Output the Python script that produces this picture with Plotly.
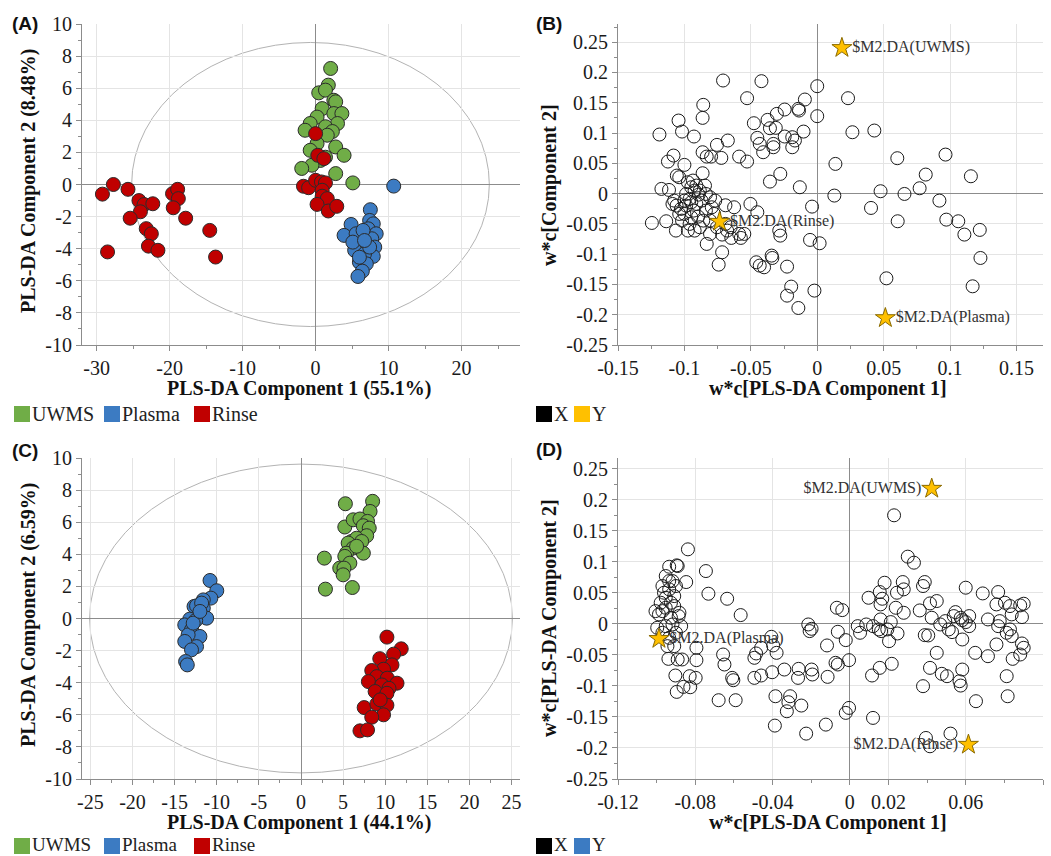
import plotly.graph_objects as go

W, H = 1051, 856

# ---------------- Panel A: PLS-DA scores ----------------
A_UWMS_X = [2.06, 0.43, 1.74, 1.35, 2.5, 2.75, 0.9, 2.5, 3.6, 0.2, 3.0, -0.74, -1.44, 1.35, 2.3, 1.6,
            0.2, 2.75, 3.9, -0.74, 0.66, -0.5, -1.9, 2.75, 5.1, 1.35]
A_UWMS_Y = [7.23, 5.71, 6.19, 5.88, 5.25, 5.15, 4.73, 4.42, 4.42, 4.2, 3.8, 3.8, 3.38, 3.6, 3.3, 3.07,
            2.55, 2.34, 1.82, 2.13, 1.5, 1.2, 1.0, 0.68, 0.1, 1.7]
A_PLASMA_X = [10.7, 7.5, 4.86, 3.9, 7.4, 7.9, 7.2, 8.3, 6.0, 7.7, 6.5, 5.35, 8.1, 7.9, 6.7, 6.0, 6.95,
              6.4, 5.8, 5.55, 6.5, 5.1, 7.4, 6.7, 6.0]
A_PLASMA_Y = [-0.1, -1.57, -2.49, -3.17, -2.24, -2.45, -2.76, -3.07, -3.28, -3.38, -3.8, -4.1, -3.9,
              -4.48, -4.32, -4.84, -4.94, -5.4, -5.73, -3.07, -2.86, -3.59, -3.9, -3.49, -4.53]
A_RINSE_X = [-29.2, -27.7, -25.7, -24.2, -23.5, -22.3, -24.0, -25.4, -23.2, -22.5, -22.9, -21.6, -28.5,
             -19.6, -18.9, -18.8, -19.5, -17.8, -14.5, -13.7,
             0.0, 0.3, 1.13, -1.66, -0.96, 0.0, 0.8, 1.35, 0.9, 0.9, 1.6, 0.2, 1.74, 2.9]
A_RINSE_Y = [-0.6, 0.0, -0.3, -1.0, -1.25, -1.2, -1.7, -2.1, -2.75, -3.07, -3.84, -4.1, -4.2,
             -0.57, -0.3, -0.88, -1.45, -2.1, -2.86, -4.52,
             3.17, 1.82, 1.61, -0.11, -0.2, 0.26, 0.16, 0.1, -0.36, -0.73, -0.88, -1.24, -1.65, -1.36]

# ---------------- Panel C: PLS-DA scores ----------------
C_UWMS_X = [5.27, 8.5, 8.2, 5.2, 6.2, 7.0, 7.9, 7.4, 8.1, 7.8, 6.0, 6.6, 7.2, 5.6, 6.2, 7.4, 5.4, 5.2,
            2.77, 5.8, 4.6, 5.1, 5.0, 2.9, 6.1, 6.6]
C_UWMS_Y = [7.15, 7.3, 6.67, 5.7, 6.15, 6.2, 6.05, 5.78, 5.63, 5.16, 4.8, 5.0, 4.8, 4.7, 4.39, 4.07,
            4.07, 3.87, 3.76, 3.45, 3.14, 3.14, 2.72, 1.83, 1.93, 4.5]
C_PLASMA_X = [-10.8, -10.0, -10.7, -11.6, -12.7, -12.4, -11.6, -11.8, -11.2, -13.2, -12.5, -13.8, -13.0,
              -12.0, -13.4, -12.4, -13.8, -13.0, -13.7, -13.5, -12.8, -12.0]
C_PLASMA_Y = [2.37, 1.73, 1.27, 1.16, 0.75, 0.79, 0.64, 0.96, 0.02, -0.04, -0.12, -0.4, -0.7, -1.12,
              -1.02, -1.75, -1.43, -1.95, -2.68, -2.89, -0.29, 0.44]
C_RINSE_X = [10.2, 11.9, 11.0, 9.35, 10.8, 9.8, 8.4, 9.0, 10.25, 8.0, 11.4, 9.6, 10.45, 8.8, 10.2, 7.5,
             9.0, 10.2, 9.8, 8.4, 7.0, 7.9, 9.4]
C_RINSE_Y = [-1.16, -1.89, -2.22, -2.5, -2.89, -3.16, -3.24, -3.62, -3.72, -3.93, -4.03, -4.14, -4.35,
             -4.55, -4.66, -5.55, -5.32, -5.4, -6.0, -6.15, -7.0, -6.94, -5.07]

# Hotelling T2 ellipses: (centre x, radius x, radius y)
ELLIPSE_A = (-0.7, 24.5, 8.85)
ELLIPSE_C = (0.0, 25.1, 9.62)

# ---------------- Panel B: loadings w*c ----------------
B_X_LOADINGS = [
    (-0.0709, 0.1867), (-0.042, 0.1856), (0.0, 0.1773), (-0.0528, 0.1575), (-0.0858, 0.1465),
    (-0.0093, 0.1553), (0.0232, 0.1575), (-0.0863, 0.125), (-0.1044, 0.1206), (0.0, 0.1278),
    (-0.0245, 0.1388), (-0.0142, 0.1399), (-0.0137, 0.1371), (-0.0304, 0.1316), (-0.0477, 0.1162),
    (-0.0374, 0.1217), (-0.0356, 0.1079), (-0.0312, 0.1085), (-0.0103, 0.1024), (0.0265, 0.1013),
    (0.043, 0.1041), (-0.1018, 0.1024), (-0.1188, 0.0975), (-0.0928, 0.0942), (-0.0451, 0.092),
    (-0.0433, 0.082), (-0.0673, 0.0876), (-0.0755, 0.0804), (-0.0245, 0.0942), (-0.0188, 0.0931),
    (-0.0168, 0.0876), (-0.0188, 0.0765), (-0.033, 0.082), (-0.033, 0.0765), (-0.0407, 0.0683),
    (-0.0863, 0.0683), (-0.0832, 0.0611), (-0.0799, 0.0611), (-0.0722, 0.0589), (-0.0588, 0.0611),
    (-0.0528, 0.0529), (-0.1082, 0.0628), (-0.1124, 0.0529), (-0.1, 0.0474), (-0.0863, 0.0336),
    (-0.1057, 0.0297), (-0.0278, 0.0325), (-0.0356, 0.0198), (0.0137, 0.049), (-0.0131, 0.0105),
    (0.0129, -0.0033), (-0.0039, -0.0215), (0.0603, 0.0584), (0.0966, 0.0644), (0.1157, 0.0286),
    (0.0817, 0.0314), (0.0771, 0.0088), (0.0657, -0.0006), (0.0477, 0.0039), (0.0405, -0.0237),
    (0.092, -0.0116), (0.0606, -0.0457), (0.0972, -0.043), (0.1062, -0.0457), (0.1108, -0.0677),
    (0.1224, -0.06), (0.1229, -0.1063), (0.0521, -0.1399), (0.117, -0.1531), (-0.0054, -0.0765),
    (0.0018, -0.082), (-0.0286, -0.0611), (-0.0278, -0.0694), (-0.0343, -0.1024), (-0.0338, -0.1063),
    (-0.0459, -0.1134), (-0.0433, -0.1189), (-0.04, -0.1217), (-0.0227, -0.1206), (-0.0196, -0.1536),
    (-0.0227, -0.1685), (-0.0021, -0.1602), (-0.0142, -0.1889), (-0.0503, -0.0171), (-0.0451, -0.0308),
    (-0.0742, -0.1173), (-0.0716, -0.0969), (-0.0832, -0.0831), (-0.0691, -0.0193), (-0.0626, -0.0226),
    (-0.0588, -0.0666), (-0.0647, -0.0732), (-0.0678, -0.0611), (-0.1245, -0.0485), (-0.1137, -0.0457),
    (-0.1173, 0.0077), (-0.1116, 0.006),
    (-0.1077, -0.0116), (-0.1059, -0.0198), (-0.1039, -0.0336), (-0.1018, -0.0446), (-0.0987, -0.0006),
    (-0.0961, -0.0088), (-0.0948, 0.0105), (-0.0936, 0.0215), (-0.0974, 0.0187), (-0.091, 0.0132),
    (-0.0884, 0.005), (-0.0845, 0.0132), (-0.0838, -0.0006), (-0.0807, -0.0061), (-0.0794, -0.0226),
    (-0.0776, -0.0336), (-0.091, -0.0171), (-0.093, -0.0281), (-0.0897, -0.038), (-0.0858, -0.0446),
    (-0.0961, -0.0501), (-0.0923, -0.0611), (-0.0884, -0.0556), (-0.0807, -0.0446), (-0.0974, -0.0611),
    (-0.1064, -0.0611), (-0.1, -0.0336), (-0.1026, -0.0253), (-0.1, -0.0116), (-0.0871, -0.0116),
    (-0.0948, -0.0391), (-0.0838, -0.0281), (-0.0768, -0.0116), (-0.0755, -0.0556), (-0.0691, -0.0501),
    (-0.0652, -0.0556), (-0.0575, -0.0732), (-0.0549, -0.0666), (-0.0716, -0.0677), (-0.0807, -0.0666),
    (-0.1039, 0.027), (-0.109, -0.0171), (-0.0948, -0.0143), (-0.0987, -0.0198), (-0.0892, -0.0017),
    (-0.0923, 0.005),
]
B_Y_NAMES = ["$M2.DA(UWMS)", "$M2.DA(Rinse)", "$M2.DA(Plasma)"]
B_Y_X = [0.0186, -0.0735, 0.0513]
B_Y_Y = [0.2406, -0.0463, -0.2054]

# ---------------- Panel D: loadings w*c ----------------
D_X_LOADINGS = [
    (0.0229, 0.1747), (-0.0838, 0.1199), (-0.0745, 0.0849), (-0.0896, 0.0941), (-0.0847, 0.0672),
    (-0.0732, 0.0484), (-0.0635, 0.0403), (-0.0565, 0.014), (0.03, 0.1081), (0.0332, 0.0984),
    (0.0274, 0.0672), (0.0279, 0.0554), (0.0244, 0.05), (0.018, 0.0661), (0.0388, 0.0672),
    (0.0379, 0.0608), (0.0415, 0.0328), (0.045, 0.0366), (0.0362, 0.0215), (0.0279, 0.0177),
    (0.0238, 0.0258), (0.0168, 0.0403), (0.0159, 0.0312), (0.0097, 0.0419), (0.0155, 0.0511),
    (-0.0067, 0.0258), (-0.0039, 0.022), (0.0085, -0.0011), (0.0041, -0.0038), (0.0053, -0.0145),
    (0.012, -0.0038), (0.015, -0.0091), (0.0159, 0.007), (0.0194, -0.0091), (0.0212, 0.0027),
    (0.0203, -0.028), (0.0247, -0.0156), (0.0162, -0.0118), (-0.0021, -0.0263), (-0.0062, -0.0129),
    (-0.0004, -0.0586), (-0.0074, -0.0629), (-0.0062, -0.0656), (-0.0115, -0.0855), (-0.0118, -0.0349),
    (-0.0198, -0.0081), (-0.0208, -0.0118), (-0.0215, -0.0011), (-0.0265, -0.0726), (-0.0268, -0.0871),
    (-0.0198, -0.0737), (-0.0194, -0.0817), (-0.0339, -0.0737), (-0.0402, -0.078), (-0.0397, -0.0349),
    (-0.0379, -0.0468), (-0.0406, -0.021), (-0.0459, -0.0833), (-0.0494, -0.0871), (-0.0485, -0.0478),
    (-0.0494, -0.0548), (-0.0459, -0.0387), (-0.0656, -0.0495), (-0.0649, -0.0656), (-0.0609, -0.0871),
    (-0.0603, -0.0909), (-0.0679, -0.1231), (-0.0591, -0.1231), (-0.0794, -0.0387), (-0.0794, -0.0586),
    (-0.0798, -0.0871), (-0.0829, -0.0844), (-0.0868, -0.0575), (-0.0903, -0.0833), (-0.0896, -0.1097),
    (-0.0826, -0.1022), (-0.0861, -0.1016), (-0.0385, -0.1167), (-0.0309, -0.1167), (-0.0318, -0.1263),
    (-0.0326, -0.1409), (-0.0251, -0.1317), (-0.0388, -0.164), (-0.0226, -0.1769), (-0.0124, -0.1624),
    (-0.0004, -0.1355), (-0.0021, -0.1435), (0.012, -0.1516), (0.0115, -0.0833), (0.0155, -0.071),
    (0.0217, -0.0645), (0.0379, -0.1005), (0.0415, -0.071), (0.045, -0.0468), (0.0476, -0.0806),
    (0.0503, -0.0844), (0.0521, -0.1769), (0.0394, -0.1839), (0.0415, -0.1973), (0.0582, -0.0737),
    (0.0568, -0.0925), (0.0574, -0.0995), (0.0653, -0.1247), (0.0582, -0.0253), (0.0529, -0.0134),
    (0.0494, 0.0043), (0.0468, -0.0011), (0.0512, -0.0091), (0.0547, 0.0188), (0.0538, 0.0124),
    (0.0574, 0.0097), (0.0582, 0.0059), (0.06, 0.0027), (0.0618, -0.0038), (0.0618, 0.0124),
    (0.06, 0.0581), (0.0688, 0.0489), (0.0649, -0.0468), (0.0715, -0.0522), (0.0715, 0.007),
    (0.0768, 0.0511), (0.0759, 0.0312), (0.0776, 0.0043), (0.0768, -0.0038), (0.0759, -0.0333),
    (0.0803, 0.0339), (0.0829, 0.0285), (0.0838, 0.0151), (0.0812, -0.0145), (0.0829, -0.0091),
    (0.0838, -0.0199), (0.0843, -0.0565), (0.0812, -0.0844), (0.0817, -0.1167), (0.0882, 0.0296),
    (0.09, 0.0323), (0.0891, 0.0108), (0.0891, -0.0317), (0.09, -0.0387), (0.0882, -0.0495),
    (0.0388, -0.0183), (0.0406, -0.0188), (0.0424, 0.0097),
    (-0.0988, 0.0151), (-0.0979, 0.0339), (-0.097, 0.0608), (-0.0953, 0.0769), (-0.0935, 0.0919),
    (-0.0891, 0.093), (-0.0962, 0.05), (-0.0953, 0.0419), (-0.0935, 0.0554), (-0.0918, 0.0688),
    (-0.09, 0.0608), (-0.0882, 0.0177), (-0.0873, -0.0038), (-0.0886, 0.0124), (-0.0918, -0.0011),
    (-0.0953, -0.0038), (-0.0935, -0.0226), (-0.0909, -0.036), (-0.0939, -0.0565), (-0.0891, -0.0575),
    (-0.0997, -0.0065), (-0.097, -0.0145), (-0.0926, 0.0339), (-0.0909, 0.0285), (-0.0953, 0.0258),
    (-0.097, 0.0204), (-0.0926, 0.0097), (-0.09, -0.0145), (-0.0944, -0.036), (-0.0935, 0.0688),
    (-0.0909, 0.0446), (-0.1006, 0.0204),
]
D_Y_NAMES = ["$M2.DA(UWMS)", "$M2.DA(Plasma)", "$M2.DA(Rinse)"]
D_Y_X = [0.0424, -0.0988, 0.0614]
D_Y_Y = [0.2177, -0.0242, -0.1946]

# ---------------- Tick values / labels ----------------
A_XTICKS = [-30, -20, -10, 0, 10, 20]
A_XTEXT = ["-30", "-20", "-10", "0", "10", "20"]
SCORE_YTICKS = [-10, -8, -6, -4, -2, 0, 2, 4, 6, 8, 10]
SCORE_YTEXT = ["-10", "-8", "-6", "-4", "-2", "0", "2", "4", "6", "8", "10"]
C_XTICKS = [-25, -20, -15, -10, -5, 0, 5, 10, 15, 20, 25]
C_XTEXT = ["-25", "-20", "-15", "-10", "-5", "0", "5", "10", "15", "20", "25"]
B_XTICKS = [-0.15, -0.1, -0.05, 0, 0.05, 0.1, 0.15]
B_XTEXT = ["-0.15", "-0.1", "-0.05", "0", "0.05", "0.1", "0.15"]
LOAD_YTICKS = [-0.25, -0.2, -0.15, -0.1, -0.05, 0, 0.05, 0.1, 0.15, 0.2, 0.25]
LOAD_YTEXT = ["-0.25", "-0.2", "-0.15", "-0.1", "-0.05", "0", "0.05", "0.1", "0.15", "0.2", "0.25"]
D_XTICKS = [-0.12, -0.08, -0.04, 0, 0.02, 0.06, 0.1]
D_XTEXT = ["-0.12", "-0.08", "-0.04", "0", "0.02", "0.06", "0.1"]

# Axis titles
A_XTITLE, A_YTITLE = "PLS-DA Component 1 (55.1%)", "PLS-DA Component 2 (8.48%)"
B_XTITLE, B_YTITLE = "w*c[PLS-DA Component 1]", "w*c[Component 2]"
C_XTITLE, C_YTITLE = "PLS-DA Component 1 (44.1%)", "PLS-DA Component 2 (6.59%)"
D_XTITLE, D_YTITLE = "w*c[PLS-DA Component 1]", "w*c[PLS-DA Component 2]"

CLASS_NAMES = ["UWMS", "Plasma", "Rinse"]
CLASS_COLORS = {"UWMS": "#70AD47", "Plasma": "#3C7BC2", "Rinse": "#C00000"}
STAR_COLOR = "#FFC000"
LOAD_LEGEND_B = [("X", "#000000"), ("Y", STAR_COLOR)]
LOAD_LEGEND_D = [("X", "#000000"), ("Y", "#3C7BC2")]

SERIF = "Liberation Serif"
SANS = "Liberation Sans"

fig = go.Figure()


def score_traces(xa, ya, data):
    for name, (xs, ys) in zip(CLASS_NAMES, data):
        fig.add_trace(go.Scatter(
            x=xs, y=ys, mode="markers", xaxis=xa, yaxis=ya, showlegend=False, name=name,
            marker=dict(size=14, color=CLASS_COLORS[name], line=dict(color="#2b2b2b", width=1))))


score_traces("x", "y", [(A_UWMS_X, A_UWMS_Y), (A_PLASMA_X, A_PLASMA_Y), (A_RINSE_X, A_RINSE_Y)])
score_traces("x3", "y3", [(C_UWMS_X, C_UWMS_Y), (C_PLASMA_X, C_PLASMA_Y), (C_RINSE_X, C_RINSE_Y)])


def loading_traces(xa, ya, loadings, yx, yy, names, positions):
    fig.add_trace(go.Scatter(
        x=[p[0] for p in loadings], y=[p[1] for p in loadings], mode="markers", xaxis=xa, yaxis=ya,
        showlegend=False, name="X",
        marker=dict(size=13, symbol="circle-open", color="#1a1a1a", line=dict(width=1, color="#1a1a1a"))))
    fig.add_trace(go.Scatter(
        x=yx, y=yy, mode="markers+text", xaxis=xa, yaxis=ya, showlegend=False, text=names, name="Y",
        textposition=positions, textfont=dict(family=SERIF, size=16, color="#333333"),
        marker=dict(size=15, symbol="star", color=STAR_COLOR, line=dict(color="#8a6a00", width=1))))


loading_traces("x2", "y2", B_X_LOADINGS, B_Y_X, B_Y_Y, B_Y_NAMES,
               ["middle right", "middle right", "middle right"])
loading_traces("x4", "y4", D_X_LOADINGS, D_Y_X, D_Y_Y, D_Y_NAMES,
               ["middle left", "middle right", "middle left"])

GRID = "#e4e4e4"
AXC = "#8c8c8c"


def axis(domain, rng, tickvals, ticktext, mdtick, anchor):
    return dict(domain=domain, range=rng, tickmode="array", tickvals=tickvals, ticktext=ticktext,
                anchor=anchor, showline=True, linecolor=AXC, linewidth=1, mirror=False,
                ticks="outside", ticklen=5, tickcolor=AXC,
                showgrid=True, gridcolor=GRID, gridwidth=1,
                zeroline=True, zerolinecolor=AXC, zerolinewidth=1,
                tickfont=dict(family=SERIF, size=20, color="#1a1a1a"),
                minor=dict(ticks="outside", ticklen=3, tickcolor=AXC, dtick=mdtick, tick0=0, showgrid=False),
                automargin=False, fixedrange=True)


def fx(px):
    return px / W


def fy(py):
    return 1 - py / H


XA = [fx(82), fx(520)]
XB = [fx(618), fx(1043)]
YTOP = [fy(345), fy(24)]
YBOT = [fy(779), fy(458)]

fig.update_layout(
    width=W, height=H, margin=dict(l=0, r=0, t=0, b=0),
    paper_bgcolor="white", plot_bgcolor="white", showlegend=False,
    xaxis=axis(XA, [-32, 28], A_XTICKS, A_XTEXT, 5, "y"),
    yaxis=axis(YTOP, [-10, 10], SCORE_YTICKS, SCORE_YTEXT, 1, "x"),
    xaxis2=axis(XB, [-0.15, 0.17], B_XTICKS, B_XTEXT, 0.025, "y2"),
    yaxis2=axis(YTOP, [-0.25, 0.28], LOAD_YTICKS, LOAD_YTEXT, 0.025, "x2"),
    xaxis3=axis(XA, [-26, 26], C_XTICKS, C_XTEXT, 2.5, "y3"),
    yaxis3=axis(YBOT, [-10, 10], SCORE_YTICKS, SCORE_YTEXT, 1, "x3"),
    xaxis4=axis(XB, [-0.12, 0.1], D_XTICKS, D_XTEXT, 0.02, "y4"),
    yaxis4=axis(YBOT, [-0.25, 0.267], LOAD_YTICKS, LOAD_YTEXT, 0.025, "x4"),
)

# T2 ellipses drawn in data coordinates
for (cx, xr, yr), xref, yref in [(ELLIPSE_A, "x", "y"), (ELLIPSE_C, "x3", "y3")]:
    fig.add_shape(type="circle", xref=xref, yref=yref, x0=cx - xr, x1=cx + xr, y0=-yr, y1=yr,
                  line=dict(color="#b3b3b3", width=1), layer="below")

# Axis titles (bold serif), placed as text annotations
title_font = dict(family=SERIF, size=20, color="#111111", weight="bold")
for text, px, py, angle in [
    (A_XTITLE, 299, 388, 0), (A_YTITLE, 28, 181, -90),
    (B_XTITLE, 828, 388, 0), (B_YTITLE, 550, 185, -90),
    (C_XTITLE, 299, 822, 0), (C_YTITLE, 28, 615, -90),
    (D_XTITLE, 828, 822, 0), (D_YTITLE, 549, 618, -90),
]:
    fig.add_annotation(text=text, x=fx(px), y=fy(py), xref="paper", yref="paper", textangle=angle,
                       xanchor="center", yanchor="middle", showarrow=False, font=title_font, borderpad=0)


# Legends: colour swatch + label
def legend_row(items, x_starts, yc, bottom=False):
    for (label, color), x0 in zip(items, x_starts):
        fig.add_shape(type="rect", xref="paper", yref="paper",
                      x0=fx(x0), x1=fx(x0 + 16), y0=fy(yc + 8), y1=fy(yc - 8),
                      fillcolor=color, line=dict(width=0))
        if bottom:
            fig.add_annotation(text=label, x=fx(x0 + 17), y=0, xref="paper", yref="paper",
                               xanchor="left", yanchor="bottom", showarrow=False, borderpad=0,
                               font=dict(family=SERIF, size=19, color="#222222"))
        else:
            fig.add_annotation(text=label, x=fx(x0 + 17), y=fy(yc), xref="paper", yref="paper",
                               xanchor="left", yanchor="middle", showarrow=False, borderpad=0,
                               font=dict(family=SERIF, size=20, color="#222222"))


score_items = [(n, CLASS_COLORS[n]) for n in CLASS_NAMES]
legend_row(score_items, [14, 104, 194], 414)
legend_row(LOAD_LEGEND_B, [536, 574], 414)
legend_row(score_items, [14, 104, 194], 846, bottom=True)
legend_row(LOAD_LEGEND_D, [536, 574], 846, bottom=True)

for label, px, py in [("(A)", 10, 23), ("(B)", 534, 23), ("(C)", 10, 450), ("(D)", 534, 449)]:
    fig.add_annotation(text=label, x=fx(px), y=fy(py), xref="paper", yref="paper",
                       xanchor="left", yanchor="middle", showarrow=False,
                       font=dict(family=SANS, size=19, color="#111111", weight="bold"))

fig.write_html("out.html")
